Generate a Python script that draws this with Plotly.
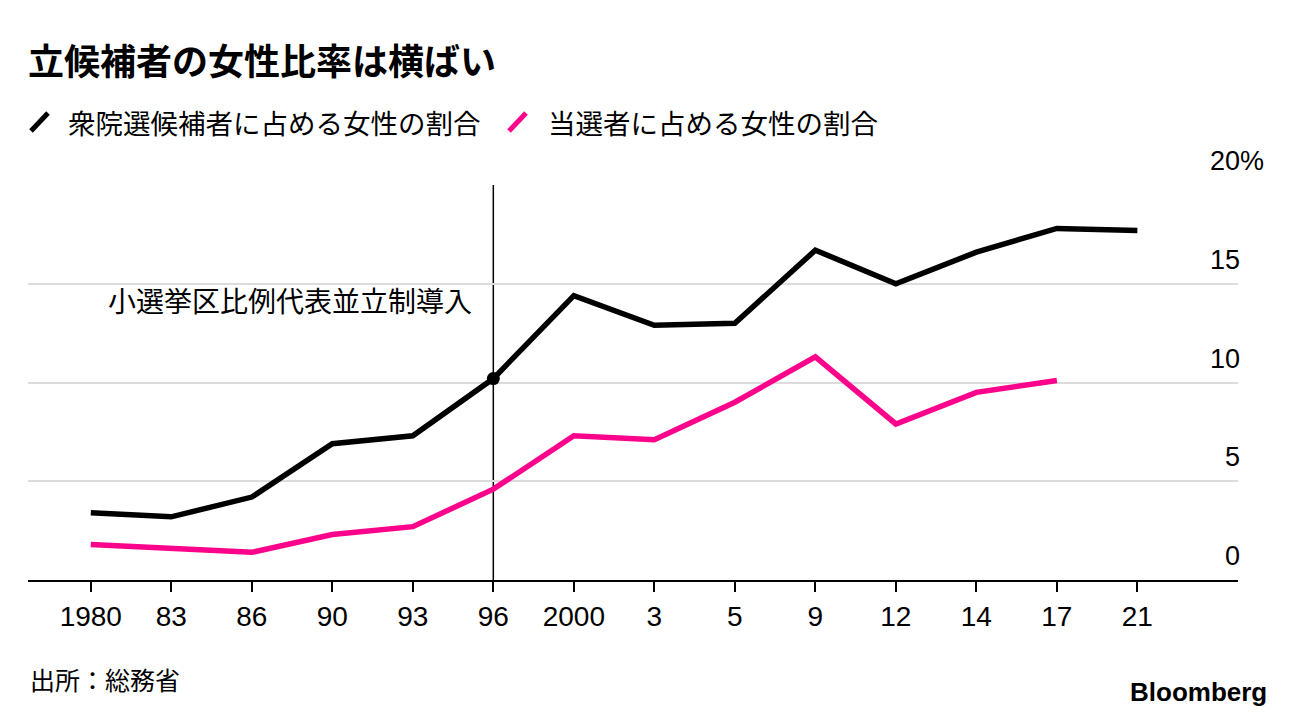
import plotly.graph_objects as go

# ---- data ----
years = ["1980", "83", "86", "90", "93", "96", "2000", "3", "5", "9", "12", "14", "17", "21"]
candidates_share = [3.4, 3.2, 4.2, 6.9, 7.3, 10.2, 14.4, 12.9, 13.0, 16.7, 15.0, 16.6, 17.8, 17.7]
elected_share = [1.8, 1.6, 1.4, 2.3, 2.7, 4.6, 7.3, 7.1, 9.0, 11.3, 7.9, 9.5, 10.1]
y_ticks = [0, 5, 10, 15, 20]
reform_year = "96"
reform_label = "小選挙区比例代表並立制導入"
legend_names = ["衆院選候補者に占める女性の割合", "当選者に占める女性の割合"]
title_text = "立候補者の女性比率は横ばい"
source_text = "出所：総務省"

BLACK = "#000000"
PINK = "#fc038c"
JP = "Noto Sans CJK JP"
NUM = "Liberation Sans"

W, H = 1296, 718
L, R, T, B = 28, 58, 185, 138
PW = W - L - R
PH = H - T - B


def px(x):
    return (x - L) / PW


def py(y):
    return (H - B - y) / PH


x_idx = list(range(len(years)))
reform_i = years.index(reform_year)

fig = go.Figure()
fig.add_trace(go.Scatter(x=x_idx, y=candidates_share, mode="lines",
                         line=dict(color=BLACK, width=5.5), name=legend_names[0],
                         showlegend=False, hoverinfo="skip"))
fig.add_trace(go.Scatter(x=x_idx[:len(elected_share)], y=elected_share, mode="lines",
                         line=dict(color=PINK, width=5.5), name=legend_names[1],
                         showlegend=False, hoverinfo="skip"))
fig.add_trace(go.Scatter(x=[reform_i], y=[candidates_share[reform_i]], mode="markers",
                         marker=dict(color=BLACK, size=13), showlegend=False,
                         hoverinfo="skip"))

# vertical reform line
fig.add_shape(type="line", xref="x", yref="y", x0=reform_i, x1=reform_i,
              y0=y_ticks[0], y1=y_ticks[-1], line=dict(color=BLACK, width=1.5),
              layer="below")

fig.add_annotation(x=reform_i, y=14.2, xref="x", yref="y", text=reform_label,
                   showarrow=False, xanchor="right", yanchor="middle", xshift=-19,
                   font=dict(family=JP, size=28, color=BLACK))

# y tick labels (right side, above gridlines)
for v in y_ticks:
    fig.add_annotation(x=1, y=v, xref="paper", yref="y", text=str(v),
                       showarrow=False, xanchor="right", yanchor="bottom",
                       xshift=4, yshift=7,
                       font=dict(family=NUM, size=27, color=BLACK))
fig.add_annotation(x=1, y=y_ticks[-1], xref="paper", yref="y", text="%",
                   showarrow=False, xanchor="left", yanchor="bottom",
                   xshift=0, yshift=7,
                   font=dict(family=NUM, size=27, color=BLACK))

# legend (manual)
legend_items = [(BLACK, 31, 66, legend_names[0]), (PINK, 509, 546, legend_names[1])]
for color, sx, tx, name in legend_items:
    fig.add_shape(type="line", xref="paper", yref="paper",
                  x0=px(sx), y0=py(131), x1=px(sx + 17), y1=py(113),
                  line=dict(color=color, width=5))
    fig.add_annotation(x=px(tx), y=py(122), xref="paper", yref="paper", text=name,
                       showarrow=False, xanchor="left", yanchor="middle",
                       font=dict(family=JP, size=27.5, color=BLACK))

# source and brand
fig.add_annotation(x=px(28), y=py(679), xref="paper", yref="paper", text=source_text,
                   showarrow=False, xanchor="left", yanchor="middle",
                   font=dict(family=JP, size=25, color=BLACK))
fig.add_annotation(x=px(1269), y=py(692), xref="paper", yref="paper",
                   text="<b>Bloomberg</b>", showarrow=False, xanchor="right",
                   yanchor="middle", font=dict(family=NUM, size=26, color=BLACK))

fig.update_layout(
    width=W, height=H,
    margin=dict(l=L, r=R, t=T, b=B, pad=0),
    plot_bgcolor="white", paper_bgcolor="white",
    showlegend=False,
    title=dict(text="<b>" + title_text + "</b>", x=L / W, xanchor="left",
               y=1 - 62 / H, yanchor="middle",
               font=dict(family=JP, size=36, color=BLACK)),
    xaxis=dict(range=[-0.78, 14.25], tickmode="array", tickvals=x_idx, ticktext=years,
               showgrid=False, zeroline=False, showline=True, linecolor=BLACK,
               linewidth=2, ticks="outside", ticklen=10, tickwidth=1.5,
               tickcolor=BLACK, tickfont=dict(family=NUM, size=28, color=BLACK),
               fixedrange=True),
    yaxis=dict(range=[y_ticks[0], y_ticks[-1]], tickmode="array", tickvals=y_ticks,
               showticklabels=False, showgrid=True, gridcolor="#dcdcdc", gridwidth=2,
               zeroline=False, showline=False, ticks="", side="right",
               fixedrange=True),
)

fig.write_html("out.html", config={"displayModeBar": False},
               post_script="document.body.style.margin='0';document.body.style.overflow='hidden';")
